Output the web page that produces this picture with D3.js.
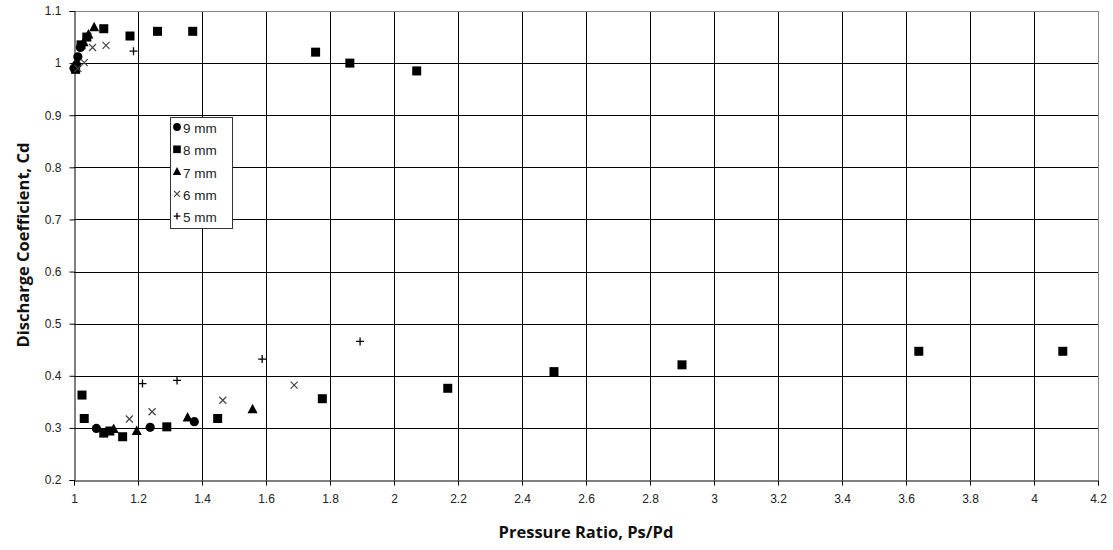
<!DOCTYPE html>
<html><head><meta charset="utf-8">
<script src="https://cdn.jsdelivr.net/npm/d3@7"></script>
<style>body{margin:0;background:#fff}svg{display:block}</style>
</head><body><svg id="c" width="1113" height="550"></svg>
<script>
const seriesNames = ["9 mm","8 mm","7 mm","6 mm","5 mm"];
const xTicks = [1,1.2,1.4,1.6,1.8,2,2.2,2.4,2.6,2.8,3,3.2,3.4,3.6,3.8,4,4.2];
const yTicks = [0.2,0.3,0.4,0.5,0.6,0.7,0.8,0.9,1,1.1];
const mm9 = [[1.0,0.99],[1.008,0.997],[1.012,1.012],[1.02,1.03],[1.07,0.299],[1.238,0.301],[1.376,0.312]];
const mm8 = [[1.005,0.988],[1.022,1.035],[1.04,1.05],[1.093,1.066],[1.175,1.052],[1.261,1.061],[1.371,1.061],[1.755,1.021],[1.862,1.0],[2.071,0.985],
  [1.025,0.363],[1.032,0.318],[1.093,0.290],[1.112,0.294],[1.152,0.283],[1.290,0.302],[1.449,0.318],[1.776,0.356],[2.168,0.376],[2.5,0.408],[2.9,0.421],[3.64,0.447],[4.09,0.447]];
const mm7 = [[1.03,1.04],[1.045,1.055],[1.063,1.069],[1.124,0.298],[1.196,0.294],[1.355,0.320],[1.558,0.336]];
const mm6 = [[1.012,0.99],[1.032,1.001],[1.058,1.030],[1.1,1.034],[1.173,0.317],[1.244,0.331],[1.465,0.353],[1.688,0.382]];
const mm5 = [[1.04,1.05],[1.186,1.023],[1.214,0.385],[1.322,0.391],[1.588,0.432],[1.894,0.466]];
const seriesData = [mm9, mm8, mm7, mm6, mm5];
const shapes = ["circle","square","triangle","cross","plus"];

const svg = d3.select("#c");
const L=74, R=1098, T=11, B=480;
const x = d3.scaleLinear().domain([1,4.2]).range([L,R]);
const y = d3.scaleLinear().domain([0.2,1.1]).range([B,T]);

// grid
const g = svg.append("g");
g.selectAll("line.v").data(xTicks.slice(1)).join("line")
 .attr("x1",d=>Math.round(x(d))+0.5).attr("x2",d=>Math.round(x(d))+0.5)
 .attr("y1",T).attr("y2",B).attr("stroke",d=>d===4.2?"#888":"#000").attr("stroke-width",1);
g.selectAll("line.h").data(yTicks.slice(1)).join("line")
 .attr("y1",d=>Math.round(y(d))+0.5).attr("y2",d=>Math.round(y(d))+0.5)
 .attr("x1",L).attr("x2",R).attr("stroke",d=>d===1.1?"#888":"#000").attr("stroke-width",1);

// axes
const xa = svg.append("g").attr("transform",`translate(0,${Math.round(y(0.2))+0.5})`)
 .call(d3.axisBottom(x).tickValues(xTicks).tickSize(5).tickPadding(9).tickFormat(d3.format("")));
const ya = svg.append("g").attr("transform",`translate(${Math.round(x(1))+0.5},0)`)
 .call(d3.axisLeft(y).tickValues(yTicks).tickSize(5).tickPadding(8).tickFormat(d3.format("")));
[xa,ya].forEach(a=>{
  a.select(".domain").attr("stroke","#000");
  a.selectAll(".tick line").attr("stroke","#000");
  a.selectAll("text").attr("font-family","'Liberation Sans',Arial,sans-serif").attr("font-size",12).attr("fill","#222");
});

// markers
function drawMarker(sel, shape, s){
  if(shape==="circle") sel.append("circle").attr("r",4.6*s).attr("fill","#000");
  else if(shape==="square") sel.append("rect").attr("x",-4.5*s).attr("y",-4.5*s).attr("width",9*s).attr("height",9*s).attr("fill","#000");
  else if(shape==="triangle") sel.append("path").attr("d",`M0,${-5.5*s}L${5*s},${4*s}L${-5*s},${4*s}Z`).attr("fill","#000");
  else if(shape==="cross") sel.append("path").attr("d",`M${-3.5*s},${-3.5*s}L${3.5*s},${3.5*s}M${3.5*s},${-3.5*s}L${-3.5*s},${3.5*s}`).attr("stroke","#444").attr("stroke-width",1.2).attr("fill","none");
  else if(shape==="plus") sel.append("path").attr("d",`M${-4*s},0L${4*s},0M0,${-4*s}L0,${4*s}`).attr("stroke","#000").attr("stroke-width",1.3).attr("fill","none");
}
seriesData.forEach((data,i)=>{
  const gg = svg.append("g");
  data.forEach(p=>{
    const m = gg.append("g").attr("transform",`translate(${x(p[0])},${y(p[1])})`);
    drawMarker(m, shapes[i], 1);
  });
});

// legend
const lg = svg.append("g").attr("transform","translate(170,117)");
lg.append("rect").attr("x",0.5).attr("y",0.5).attr("width",62).attr("height",111).attr("fill","#fff").attr("stroke","#333");
seriesNames.forEach((n,i)=>{
  const yy = 10 + i*22.3;
  const m = lg.append("g").attr("transform",`translate(7,${yy})`);
  drawMarker(m, shapes[i], 0.85);
  lg.append("text").attr("x",13).attr("y",yy+6).text(n)
    .attr("font-family","'Liberation Sans',Arial,sans-serif").attr("font-size",13.5).attr("fill","#222");
});

// titles
svg.append("text").attr("x",586).attr("y",538).attr("text-anchor","middle")
 .attr("font-family","'Open Sans',sans-serif").attr("font-weight","bold").attr("font-size",16.5).attr("fill","#111")
 .text("Pressure Ratio, Ps/Pd");
svg.append("text").attr("transform","translate(29,245) rotate(-90)").attr("text-anchor","middle")
 .attr("font-family","'Open Sans',sans-serif").attr("font-weight","bold").attr("font-size",16.5).attr("fill","#111")
 .text("Discharge Coefficient, Cd");
</script></body></html>
